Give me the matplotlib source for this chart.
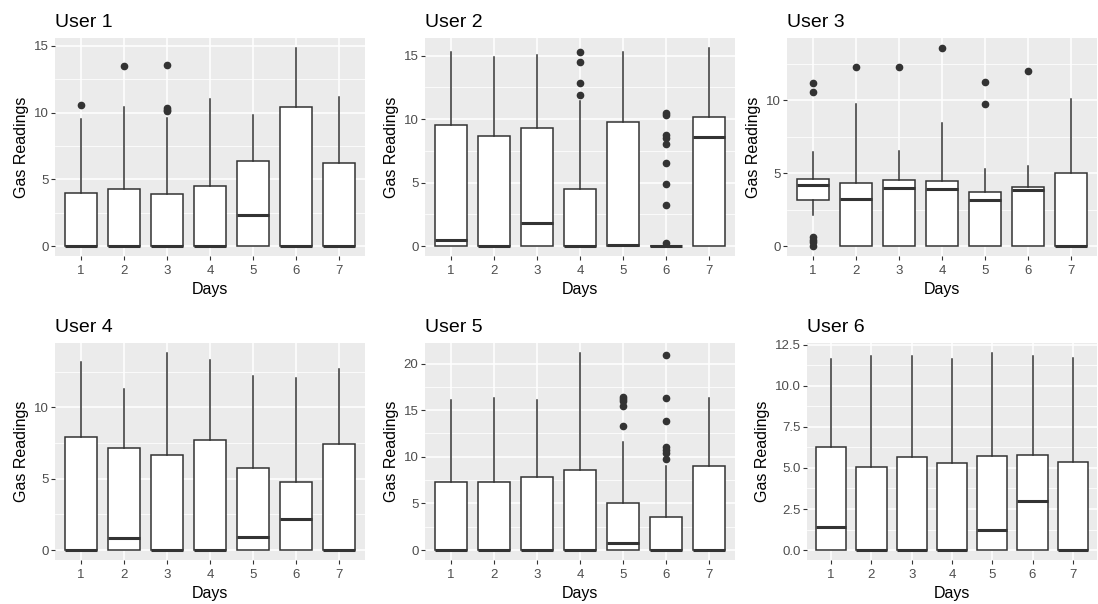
import matplotlib.pyplot as plt
import numpy as np

plt.rcParams['font.family'] = ['Liberation Sans', 'DejaVu Sans']

days = [1, 2, 3, 4, 5, 6, 7]
users = ['User 1', 'User 2', 'User 3', 'User 4', 'User 5', 'User 6']

# box stats per user: lower whisker, q1, median, q3, upper whisker, outliers
u1_lo = [0, 0, 0, 0, 0, 0, 0]
u1_q1 = [0, 0, 0, 0, 0, 0, 0]
u1_med = [0, 0, 0, 0, 2.3, 0, 0]
u1_q3 = [4.0, 4.25, 3.9, 4.5, 6.35, 10.45, 6.2]
u1_hi = [9.5, 10.45, 9.6, 11.05, 9.85, 14.85, 11.2]
u1_out = [[10.6], [13.5], [10.1, 10.2, 10.35, 13.55], [], [], [], []]

u2_lo = [0, 0, 0, 0, 0, 0, 0]
u2_q1 = [0, 0, 0, 0, 0, 0, 0]
u2_med = [0.45, 0, 1.8, 0, 0.1, 0, 8.6]
u2_q3 = [9.5, 8.63, 9.27, 4.5, 9.76, 0, 10.2]
u2_hi = [15.25, 14.88, 15.04, 11.4, 15.25, 0, 15.6]
u2_out = [[], [], [], [11.9, 12.8, 14.5, 15.25], [],
          [0.25, 3.2, 4.85, 6.55, 8.05, 8.5, 8.75, 10.3, 10.5], []]

u3_lo = [2.1, 0, 0, 0, 0, 0, 0]
u3_q1 = [3.19, 0, 0, 0, 0, 0, 0]
u3_med = [4.17, 3.23, 3.99, 3.9, 3.14, 3.81, 0]
u3_q3 = [4.63, 4.33, 4.56, 4.43, 3.72, 4.04, 4.98]
u3_hi = [6.47, 9.72, 6.51, 8.46, 5.3, 5.48, 10.11]
u3_out = [[0.0, 0.25, 0.45, 0.65, 10.57, 11.19], [12.27], [12.27], [13.58],
          [9.77, 11.26], [11.97], []]

u4_lo = [0, 0, 0, 0, 0, 0, 0]
u4_q1 = [0, 0, 0, 0, 0, 0, 0]
u4_med = [0, 0.82, 0, 0, 0.89, 2.21, 0]
u4_q3 = [7.95, 7.16, 6.69, 7.72, 5.73, 4.78, 7.46]
u4_hi = [13.19, 11.3, 13.82, 13.33, 12.17, 12.07, 12.7]
u4_out = [[], [], [], [], [], [], []]

u5_lo = [0, 0, 0, 0, 0, 0, 0]
u5_q1 = [0, 0, 0, 0, 0, 0, 0]
u5_med = [0, 0, 0, 0, 0.78, 0, 0]
u5_q3 = [7.31, 7.31, 7.81, 8.63, 5.03, 3.57, 9.06]
u5_hi = [16.11, 16.29, 16.11, 21.14, 11.59, 9.06, 16.29]
u5_out = [[], [], [], [], [13.25, 15.45, 16.0, 16.2, 16.45],
          [9.75, 10.4, 10.7, 11.0, 13.85, 16.25, 20.95], []]

u6_lo = [0, 0, 0, 0, 0, 0, 0]
u6_q1 = [0, 0, 0, 0, 0, 0, 0]
u6_med = [1.39, 0, 0, 0, 1.25, 2.97, 0]
u6_q3 = [6.26, 5.05, 5.66, 5.29, 5.72, 5.8, 5.37]
u6_hi = [11.62, 11.78, 11.78, 11.62, 12.0, 11.78, 11.7]
u6_out = [[], [], [], [], [], [], []]

yticks = [
    [0, 5, 10, 15],
    [0, 5, 10, 15],
    [0, 5, 10],
    [0, 5, 10],
    [0, 5, 10, 15, 20],
    [0, 2.5, 5, 7.5, 10, 12.5],
]

all_stats = [
    (u1_lo, u1_q1, u1_med, u1_q3, u1_hi, u1_out),
    (u2_lo, u2_q1, u2_med, u2_q3, u2_hi, u2_out),
    (u3_lo, u3_q1, u3_med, u3_q3, u3_hi, u3_out),
    (u4_lo, u4_q1, u4_med, u4_q3, u4_hi, u4_out),
    (u5_lo, u5_q1, u5_med, u5_q3, u5_hi, u5_out),
    (u6_lo, u6_q1, u6_med, u6_q3, u6_hi, u6_out),
]

W, H = 1098, 604
# panel rectangles in pixels: left, top, right, bottom
panels = [
    (55, 38, 365, 256), (425, 38, 735, 256), (787, 38, 1097, 256),
    (55, 343, 365, 560), (425, 343, 735, 560), (807, 343, 1097, 560),
]

fig = plt.figure(figsize=(W / 100, H / 100), dpi=100)
edge = '#333333'

for i, (name, st, ticks, px) in enumerate(zip(users, all_stats, yticks, panels)):
    l, t, r, b = px
    ax = fig.add_axes([l / W, 1 - b / H, (r - l) / W, (b - t) / H])
    lo, q1, med, q3, hi, out = st
    stats = []
    for k in range(len(days)):
        stats.append(dict(whislo=lo[k], q1=q1[k], med=med[k], q3=q3[k],
                          whishi=hi[k], fliers=out[k]))
    ax.bxp(stats, positions=days, widths=0.75, patch_artist=True, showcaps=False,
           boxprops=dict(facecolor='white', edgecolor=edge, linewidth=1.1),
           whiskerprops=dict(color=edge, linewidth=1.1),
           medianprops=dict(color=edge, linewidth=2.2, solid_capstyle='butt'),
           flierprops=dict(marker='o', markerfacecolor=edge, markeredgecolor=edge,
                           markersize=4.5))

    ax.set_yticks(ticks)
    if any(v != int(v) for v in ticks):
        ax.set_yticklabels(['%.1f' % v for v in ticks])
    else:
        ax.set_yticklabels([str(int(v)) for v in ticks])
    step = ticks[1] - ticks[0]
    minor = [v + step / 2 for v in [ticks[0] - step] + ticks]
    ax.set_yticks(minor, minor=True)
    ax.set_xticks(days)
    ax.set_xticklabels([str(d) for d in days])

    # ggplot-like 5% expansion, set after the ticks so they don't widen it
    vals = lo + hi + [v for o in out for v in o]
    ymin, ymax = min(vals), max(vals)
    pad = 0.05 * (ymax - ymin)
    ax.set_ylim(ymin - pad, ymax + pad)
    ax.set_xlim(0.4, 7.6)

    ax.set_facecolor('#EBEBEB')
    ax.set_axisbelow(True)
    for s in ax.spines.values():
        s.set_visible(False)
    ax.grid(True, which='major', color='white', linewidth=1.1)
    ax.grid(True, which='minor', axis='y', color='white', linewidth=0.55)
    ax.tick_params(which='major', length=2.75, width=0.8, color=edge,
                   labelcolor='#4D4D4D', labelsize=9.5, pad=2)
    ax.tick_params(axis='x', which='major', pad=3.5)
    ax.tick_params(which='minor', length=0)

    ax.set_xlabel('Days', fontsize=11.5, color='black', labelpad=4)
    ax.set_ylabel('Gas Readings', fontsize=11.5, color='black', labelpad=3)
    ax.set_title(name, loc='left', fontsize=14, color='black', pad=8)

fig.savefig('out.png', dpi=100, facecolor='white')
